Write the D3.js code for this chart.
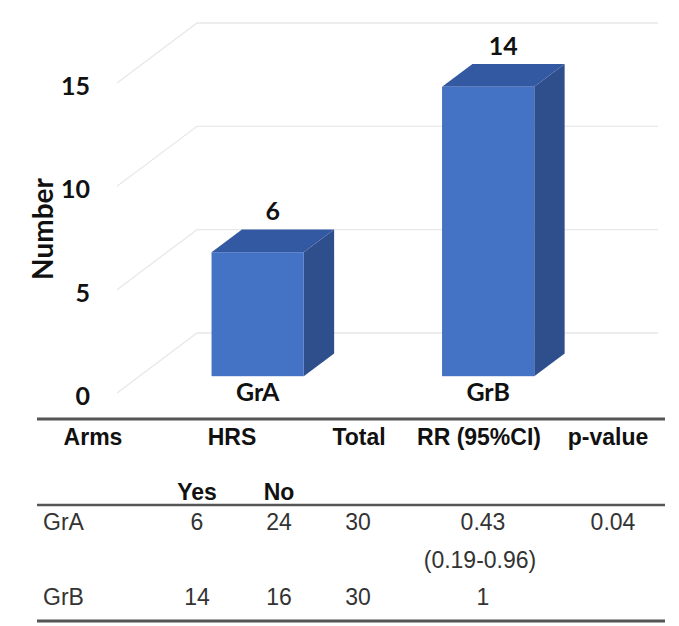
<!DOCTYPE html>
<html>
<head>
<meta charset="utf-8">
<script src="https://cdn.jsdelivr.net/npm/d3@7"></script>
<style>
  body { margin: 0; background: #fff; }
  svg { display: block; }
</style>
</head>
<body>
<div id="container"></div>
<script>
// chart data
var categories = ["GrA", "GrB"];
var hrsYes = [6, 14];
var yTicks = [0, 5, 10, 15];
var yLabel = "Number";

// table data
var tableHeader = ["Arms", "HRS", "Total", "RR (95%CI)", "p-value"];
var subHeader = ["Yes", "No"];
var rowArms = ["GrA", "GrB"];
var rowYes = ["6", "14"];
var rowNo = ["24", "16"];
var rowTotal = ["30", "30"];
var rowRR = ["0.43", "1"];
var rowCI = ["(0.19-0.96)", ""];
var rowP = ["0.04", ""];

var width = 679, height = 626;

var svg = d3.select("#container")
    .append("svg")
    .attr("width", width)
    .attr("height", height);

// 3d depth: full floor depth offset
var depthX = 80, depthY = -60;
var barD0 = 0.28, barD1 = 0.66;
var wallLeft = 117, wallRight = 578;

var y = d3.scaleLinear()
    .domain([0, 15])
    .range([393, 83]);

var x = d3.scaleBand()
    .domain(categories)
    .range([wallLeft + 3, wallRight + 3])
    .paddingInner(0.6)
    .paddingOuter(0.3);

// side wall + back wall gridlines
svg.append("g")
    .selectAll("polyline")
    .data(yTicks)
    .enter()
    .append("polyline")
    .attr("fill", "none")
    .attr("stroke", "#e8e8e8")
    .attr("stroke-width", 1.3)
    .attr("points", function(d) {
        return [[wallLeft, y(d)],
                [wallLeft + depthX, y(d) + depthY],
                [wallRight + depthX, y(d) + depthY]].join(" ");
    });

// y tick labels
svg.append("g")
    .selectAll("text")
    .data(yTicks)
    .enter()
    .append("text")
    .attr("x", 90)
    .attr("y", function(d) { return y(d) + 12; })
    .attr("text-anchor", "end")
    .attr("font-family", "Lato, sans-serif")
    .attr("font-weight", "bold")
    .attr("font-size", 25)
    .attr("fill", "#111")
    .text(function(d) { return d; });

svg.append("text")
    .attr("transform", "translate(53,229) rotate(-90)")
    .attr("text-anchor", "middle")
    .attr("font-family", "Lato, sans-serif")
    .attr("font-weight", "bold")
    .attr("font-size", 28)
    .attr("fill", "#111")
    .text(yLabel);

// bars
var bars = svg.append("g")
    .selectAll("g")
    .data(categories)
    .enter()
    .append("g");

function pt(px, py) { return px + "," + py; }

bars.each(function(c, i) {
    var g = d3.select(this);
    var v = hrsYes[i];
    var x0 = x(c) + depthX * barD0, y0 = y(0) + depthY * barD0;
    var w = x.bandwidth();
    var h = y(0) - y(v);
    var dx = depthX * (barD1 - barD0), dy = depthY * (barD1 - barD0);

    // right side
    g.append("polygon")
        .attr("fill", "#2f4f8c")
        .attr("points", [pt(x0 + w, y0), pt(x0 + w + dx, y0 + dy),
                         pt(x0 + w + dx, y0 - h + dy), pt(x0 + w, y0 - h)].join(" "));
    // top
    g.append("polygon")
        .attr("fill", "#3459a3")
        .attr("points", [pt(x0, y0 - h), pt(x0 + w, y0 - h),
                         pt(x0 + w + dx, y0 - h + dy), pt(x0 + dx, y0 - h + dy)].join(" "));
    // front
    g.append("rect")
        .attr("x", x0)
        .attr("y", y0 - h)
        .attr("width", w)
        .attr("height", h)
        .attr("fill", "#4472c4");

    // value label
    g.append("text")
        .attr("x", x0 + w / 2 + dx / 2)
        .attr("y", y0 - h + dy - 9)
        .attr("text-anchor", "middle")
        .attr("font-family", "Lato, sans-serif")
        .attr("font-weight", "bold")
        .attr("font-size", 25)
        .attr("fill", "#111")
        .text(v);

    // category label
    g.append("text")
        .attr("x", x0 + w / 2)
        .attr("y", 401)
        .attr("text-anchor", "middle")
        .attr("font-family", "Lato, sans-serif")
        .attr("font-weight", "bold")
        .attr("font-size", 25)
        .attr("fill", "#111")
        .text(c);
});

// table
var tbl = svg.append("g")
    .attr("font-family", "'Liberation Sans', Arial, sans-serif");

var lineX0 = 37, lineX1 = 665;
[[419, 3], [505, 2.5], [621, 3]].forEach(function(l) {
    tbl.append("line")
        .attr("x1", lineX0).attr("x2", lineX1)
        .attr("y1", l[0]).attr("y2", l[0])
        .attr("stroke", "#555")
        .attr("stroke-width", l[1]);
});

var headX = [93, 232, 359, 479, 608];
tbl.selectAll(".head")
    .data(tableHeader)
    .enter()
    .append("text")
    .attr("class", "head")
    .attr("x", function(d, i) { return headX[i]; })
    .attr("y", 445)
    .attr("text-anchor", "middle")
    .attr("font-weight", "bold")
    .attr("font-size", 23)
    .attr("fill", "#111")
    .text(function(d) { return d; });

var subX = [197, 279];
tbl.selectAll(".sub")
    .data(subHeader)
    .enter()
    .append("text")
    .attr("class", "sub")
    .attr("x", function(d, i) { return subX[i]; })
    .attr("y", 500)
    .attr("text-anchor", "middle")
    .attr("font-weight", "bold")
    .attr("font-size", 23)
    .attr("fill", "#111")
    .text(function(d) { return d; });

var rowY = [530, 605];
var cols = [
    { vals: rowYes, x: 197 },
    { vals: rowNo, x: 279 },
    { vals: rowTotal, x: 358 },
    { vals: rowRR, x: 483 },
    { vals: rowP, x: 613 }
];

rowArms.forEach(function(a, r) {
    tbl.append("text")
        .attr("x", 43)
        .attr("y", rowY[r])
        .attr("font-size", 23)
        .attr("fill", "#333")
        .text(a);
    cols.forEach(function(c) {
        tbl.append("text")
            .attr("x", c.x)
            .attr("y", rowY[r])
            .attr("text-anchor", "middle")
            .attr("font-size", 23)
            .attr("fill", "#333")
            .text(c.vals[r]);
    });
    if (rowCI[r]) {
        tbl.append("text")
            .attr("x", 480)
            .attr("y", 568)
            .attr("text-anchor", "middle")
            .attr("font-size", 23)
            .attr("fill", "#333")
            .text(rowCI[r]);
    }
});
</script>
</body>
</html>
